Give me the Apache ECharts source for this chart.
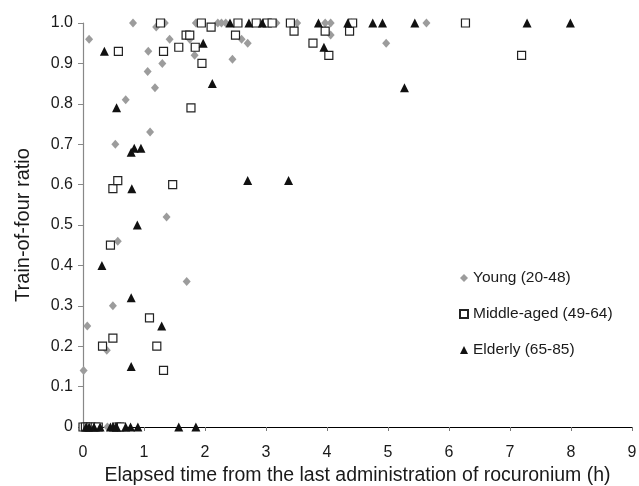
<!DOCTYPE html>
<html>
<head>
<meta charset="utf-8">
<script src="https://cdn.jsdelivr.net/npm/echarts@6/dist/echarts.min.js"></script>
<style>
  html, body { margin: 0; padding: 0; background: #fff; }
  #chart { width: 639px; height: 486px; }
</style>
</head>
<body>
<div id="chart"></div>
<script>
// [elapsed time (h), train-of-four ratio]
const young = [
  [0.01, 0.14], [0.07, 0.25], [0.10, 0.96], [0.39, 0.19], [0.49, 0.30], [0.53, 0.70],
  [0.57, 0.46], [0.70, 0.81], [0.82, 1.0], [1.06, 0.88], [1.07, 0.93], [1.10, 0.73],
  [1.18, 0.84], [1.20, 0.99], [1.30, 0.90], [1.34, 1.0], [1.37, 0.52], [1.42, 0.96],
  [1.70, 0.36], [1.75, 0.96], [1.83, 0.92], [1.85, 1.0], [2.21, 1.0], [2.27, 1.0],
  [2.34, 1.0], [2.45, 0.91], [2.60, 0.96], [2.70, 0.95], [3.17, 1.0], [3.51, 1.0],
  [3.97, 1.0], [4.06, 1.0], [4.06, 0.97], [4.40, 1.0], [4.97, 0.95], [5.63, 1.0],
  [0.02, 0], [0.15, 0], [0.40, 0], [0.58, 0]
];
const middleAged = [
  [0.32, 0.20], [0.45, 0.45], [0.49, 0.22], [0.49, 0.59], [0.57, 0.61], [0.58, 0.93],
  [1.09, 0.27], [1.21, 0.20], [1.27, 1.0], [1.32, 0.93], [1.32, 0.14], [1.47, 0.60],
  [1.57, 0.94], [1.69, 0.97], [1.75, 0.97], [1.77, 0.79], [1.84, 0.94], [1.94, 1.0],
  [1.95, 0.90], [2.10, 0.99], [2.50, 0.97], [2.54, 1.0], [2.84, 1.0], [3.02, 1.0],
  [3.10, 1.0], [3.40, 1.0], [3.46, 0.98], [3.77, 0.95], [3.97, 0.98], [4.03, 0.92],
  [4.37, 0.98], [4.42, 1.0], [6.27, 1.0], [7.19, 0.92],
  [0, 0], [0.04, 0], [0.08, 0], [0.13, 0], [0.20, 0], [0.25, 0], [0.55, 0], [0.60, 0], [0.63, 0]
];
const elderly = [
  [0.31, 0.40], [0.35, 0.93], [0.55, 0.79], [0.79, 0.68], [0.79, 0.32], [0.79, 0.15],
  [0.80, 0.59], [0.84, 0.69], [0.89, 0.50], [0.95, 0.69], [1.29, 0.25], [1.97, 0.95],
  [2.12, 0.85], [2.41, 1.0], [2.70, 0.61], [2.72, 1.0], [2.94, 1.0], [3.37, 0.61],
  [3.86, 1.0], [3.95, 0.94], [4.34, 1.0], [4.75, 1.0], [4.91, 1.0], [5.27, 0.84],
  [5.44, 1.0], [7.28, 1.0], [7.99, 1.0],
  [0.05, 0], [0.10, 0], [0.18, 0], [0.28, 0], [0.45, 0], [0.50, 0], [0.55, 0],
  [0.70, 0], [0.78, 0], [0.90, 0], [1.57, 0], [1.85, 0]
];
const seriesNames = ['Young (20-48)', 'Middle-aged (49-64)', 'Elderly (65-85)'];
const xTicks = [0, 1, 2, 3, 4, 5, 6, 7, 8, 9];
const yTicks = [0, 0.1, 0.2, 0.3, 0.4, 0.5, 0.6, 0.7, 0.8, 0.9, 1.0];

const font = 'Liberation Sans, Arial, sans-serif';
const chart = echarts.init(document.getElementById('chart'), null, { renderer: 'canvas' });

chart.setOption({
  backgroundColor: '#ffffff',
  animation: false,
  textStyle: { fontFamily: font },
  grid: { left: 83, right: 7, top: 23, bottom: 59, outerBoundsMode: 'none', containLabel: false },
  legend: {
    orient: 'vertical',
    left: 454,
    top: 265,
    itemGap: 20,
    itemWidth: 8,
    itemHeight: 8,
    textStyle: { fontSize: 15.5, color: '#1a1a1a', fontFamily: font },
    data: seriesNames
  },
  xAxis: {
    type: 'value',
    min: xTicks[0],
    max: xTicks[xTicks.length - 1],
    interval: 1,
    name: 'Elapsed time from the last administration of rocuronium (h)',
    nameLocation: 'middle',
    nameGap: 30,
    nameTextStyle: { fontSize: 19.5, color: '#1a1a1a' },
    axisLine: { lineStyle: { color: '#000', width: 1.2 } },
    axisTick: { show: true, length: 4, lineStyle: { color: '#777' } },
    axisLabel: { fontSize: 16, color: '#1a1a1a', margin: 18 },
    splitLine: { show: false }
  },
  yAxis: {
    type: 'value',
    min: yTicks[0],
    max: yTicks[yTicks.length - 1],
    interval: 0.1,
    name: 'Train-of-four ratio',
    nameLocation: 'middle',
    nameGap: 50,
    nameTextStyle: { fontSize: 20, color: '#1a1a1a' },
    axisLine: { show: true, lineStyle: { color: '#888', width: 1.2 } },
    axisTick: { show: true, length: 5, lineStyle: { color: '#888' } },
    axisLabel: {
      fontSize: 16,
      color: '#1a1a1a',
      margin: 10,
      formatter: v => (v === 0 ? '0' : v.toFixed(1))
    },
    splitLine: { show: false }
  },
  series: [
    {
      name: seriesNames[0],
      type: 'scatter',
      symbol: 'diamond',
      symbolSize: [8, 9],
      itemStyle: { color: '#9c9c9c', opacity: 1 },
      data: young
    },
    {
      name: seriesNames[1],
      type: 'scatter',
      symbol: 'rect',
      symbolSize: 8,
      itemStyle: { color: '#ffffff', borderColor: '#222', borderWidth: 1.2, opacity: 1 },
      data: middleAged
    },
    {
      name: seriesNames[2],
      type: 'scatter',
      symbol: 'triangle',
      symbolSize: 9,
      itemStyle: { color: '#111111', opacity: 1 },
      data: elderly
    }
  ]
});
</script>
</body>
</html>
